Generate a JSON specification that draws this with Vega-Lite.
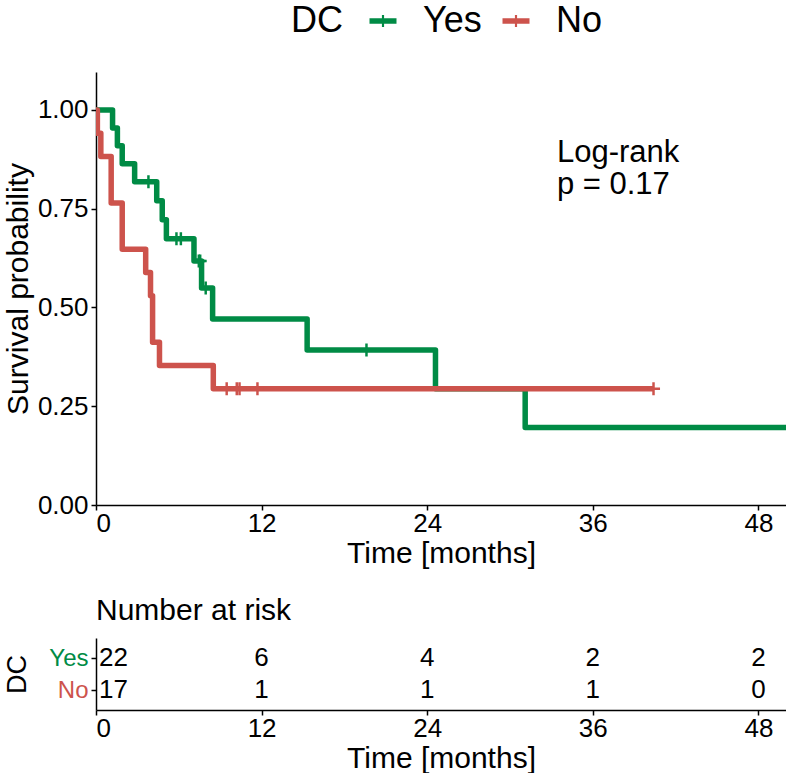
{
  "$schema": "https://vega.github.io/schema/vega-lite/v6.json",
  "padding": {"left": 3, "top": 3, "right": 0, "bottom": 0},
  "background": "white",
  "config": {
    "font": "Liberation Sans",
    "view": {"stroke": null},
    "axis": {
      "grid": false, "domainColor": "black", "domainWidth": 1.5, "tickColor": "black", "tickWidth": 1.5, "tickSize": 5,
      "labelColor": "black", "labelFontSize": 26, "labelFont": "Liberation Sans", "labelPadding": 3,
      "titleFont": "Liberation Sans", "titleFontSize": 30, "titleFontWeight": "normal", "titleColor": "black"
    },
    "axisX": {"labelPadding": 0, "titlePadding": 2},
    "legend": {
      "titleFont": "Liberation Sans", "labelFont": "Liberation Sans",
      "titleFontSize": 36, "labelFontSize": 36, "titleFontWeight": "normal", "titleColor": "black", "labelColor": "black"
    },
    "title": {"font": "Liberation Sans", "fontWeight": "normal", "color": "black"}
  },
  "datasets": {
    "km": [
      {"g": "Yes", "t": 0, "s": 1, "type": "start"},
      {"g": "Yes", "t": 1.2, "s": 0.9545, "type": "event"},
      {"g": "Yes", "t": 1.55, "s": 0.9091, "type": "event"},
      {"g": "Yes", "t": 1.9, "s": 0.8636, "type": "event"},
      {"g": "Yes", "t": 2.8, "s": 0.8182, "type": "event"},
      {"g": "Yes", "t": 3.8, "s": 0.8182, "type": "censor"},
      {"g": "Yes", "t": 4.4, "s": 0.7701, "type": "event"},
      {"g": "Yes", "t": 4.8, "s": 0.7219, "type": "event"},
      {"g": "Yes", "t": 5.1, "s": 0.6738, "type": "event"},
      {"g": "Yes", "t": 5.83, "s": 0.6738, "type": "censor"},
      {"g": "Yes", "t": 6.15, "s": 0.6738, "type": "censor"},
      {"g": "Yes", "t": 7.1, "s": 0.6176, "type": "event"},
      {"g": "Yes", "t": 7.45, "s": 0.6176, "type": "censor"},
      {"g": "Yes", "t": 7.55, "s": 0.6176, "type": "censor"},
      {"g": "Yes", "t": 7.65, "s": 0.549, "type": "event"},
      {"g": "Yes", "t": 7.95, "s": 0.549, "type": "censor"},
      {"g": "Yes", "t": 8.45, "s": 0.4706, "type": "event"},
      {"g": "Yes", "t": 15.3, "s": 0.3922, "type": "event"},
      {"g": "Yes", "t": 19.6, "s": 0.3922, "type": "censor"},
      {"g": "Yes", "t": 24.6, "s": 0.2941, "type": "event"},
      {"g": "Yes", "t": 31.1, "s": 0.1961, "type": "event"},
      {"g": "Yes", "t": 50, "s": 0.1961, "type": "end"},
      {"g": "No", "t": 0, "s": 1, "type": "start"},
      {"g": "No", "t": 0.1, "s": 0.9412, "type": "event"},
      {"g": "No", "t": 0.35, "s": 0.8824, "type": "event"},
      {"g": "No", "t": 1.1, "s": 0.7647, "type": "event"},
      {"g": "No", "t": 1.9, "s": 0.6471, "type": "event"},
      {"g": "No", "t": 3.6, "s": 0.5882, "type": "event"},
      {"g": "No", "t": 3.95, "s": 0.5294, "type": "event"},
      {"g": "No", "t": 4.1, "s": 0.4118, "type": "event"},
      {"g": "No", "t": 4.6, "s": 0.3529, "type": "event"},
      {"g": "No", "t": 8.5, "s": 0.2941, "type": "event"},
      {"g": "No", "t": 9.47, "s": 0.2941, "type": "censor"},
      {"g": "No", "t": 10.2, "s": 0.2941, "type": "censor"},
      {"g": "No", "t": 10.4, "s": 0.2941, "type": "censor"},
      {"g": "No", "t": 11.7, "s": 0.2941, "type": "censor"},
      {"g": "No", "t": 40.4, "s": 0.2941, "type": "censor"}
    ],
    "risk": [
      {"g": "Yes", "t": 0, "n": 22},
      {"g": "Yes", "t": 12, "n": 6},
      {"g": "Yes", "t": 24, "n": 4},
      {"g": "Yes", "t": 36, "n": 2},
      {"g": "Yes", "t": 48, "n": 2},
      {"g": "No", "t": 0, "n": 17},
      {"g": "No", "t": 12, "n": 1},
      {"g": "No", "t": 24, "n": 1},
      {"g": "No", "t": 36, "n": 1},
      {"g": "No", "t": 48, "n": 0}
    ]
  },
  "bounds": "flush",
  "spacing": 133,
  "vconcat": [
    {
      "width": 690,
      "height": 433,
      "data": {"name": "km"},
      "layer": [
        {
          "transform": [{"filter": "datum.g == 'Yes'"}],
          "mark": {"type": "line", "interpolate": "step-after", "color": "#008B45", "strokeWidth": 5.5, "strokeJoin": "round", "clip": true},
          "encoding": {
            "x": {"field": "t", "type": "quantitative", "scale": {"domain": [0, 50], "nice": false, "zero": false},
                  "axis": {"values": [0, 12, 24, 36, 48], "title": "Time [months]"}},
            "y": {"field": "s", "type": "quantitative", "scale": {"domain": [0, 1.096], "nice": false},
                  "axis": {"values": [0, 0.25, 0.5, 0.75, 1], "format": ".2f", "title": "Survival probability", "titlePadding": 4}},
            "order": {"field": "t"}
          }
        },
        {
          "transform": [{"filter": "datum.g == 'No'"}],
          "mark": {"type": "line", "interpolate": "step-after", "color": "#CD534C", "strokeWidth": 5.5, "strokeJoin": "round", "clip": true},
          "encoding": {
            "x": {"field": "t", "type": "quantitative"},
            "y": {"field": "s", "type": "quantitative"},
            "order": {"field": "t"}
          }
        },
        {
          "transform": [{"filter": "datum.type == 'censor'"}],
          "mark": {"type": "point", "filled": true, "opacity": 1, "size": 169,
                   "shape": "M-1,-0.19L-0.19,-0.19L-0.19,-1L0.19,-1L0.19,-0.19L1,-0.19L1,0.19L0.19,0.19L0.19,1L-0.19,1L-0.19,0.19L-1,0.19Z"},
          "encoding": {
            "x": {"field": "t", "type": "quantitative"},
            "y": {"field": "s", "type": "quantitative"},
            "color": {"field": "g", "type": "nominal",
                      "scale": {"domain": ["Yes", "No"], "range": ["#008B45", "#CD534C"]},
                      "legend": {"title": "DC", "orient": "none", "legendX": 195, "legendY": -69, "direction": "horizontal",
                                 "titleOrient": "left", "titlePadding": 22, "labelOffset": 22, "columnPadding": 16,
                                 "symbolType": "M-1,-0.2L-0.08,-0.2L-0.08,-0.45L0.08,-0.45L0.08,-0.2L1,-0.2L1,0.2L0.08,0.2L0.08,0.45L-0.08,0.45L-0.08,0.2L-1,0.2Z",
                                 "symbolSize": 729, "symbolStrokeWidth": 0, "symbolOpacity": 1}}
          }
        },
        {
          "data": {"values": [{"label": "Log-rank\np = 0.17"}]},
          "mark": {"type": "text", "align": "left", "baseline": "alphabetic", "fontSize": 31, "lineHeight": 32, "lineBreak": "\n", "font": "Liberation Sans", "color": "black"},
          "encoding": {
            "x": {"datum": 33.4, "type": "quantitative"},
            "y": {"datum": 0.869, "type": "quantitative"},
            "text": {"field": "label"}
          }
        }
      ]
    },
    {
      "width": 690,
      "height": 72,
      "data": {"name": "risk"},
      "title": {"text": "Number at risk", "anchor": "start", "frame": "group", "fontSize": 30, "offset": 12},
      "layer": [
        {
          "transform": [{"filter": "datum.t == 0"}],
          "mark": {"type": "text", "align": "left", "dx": 3, "baseline": "middle", "fontSize": 26, "color": "black"},
          "encoding": {
            "x": {"field": "t", "type": "quantitative", "scale": {"domain": [0, 50], "nice": false, "zero": false},
                  "axis": {"values": [0, 12, 24, 36, 48], "title": "Time [months]"}},
            "y": {"field": "g", "type": "nominal", "scale": {"type": "point", "domain": ["Yes", "No"], "padding": 0.625},
                  "axis": {"title": "DC", "titleFontSize": 27, "labelFontSize": 24, "titlePadding": 17,
                           "labelColor": {"condition": {"test": "datum.value === 'Yes'", "value": "#008B45"}, "value": "#CD534C"}}},
            "text": {"field": "n", "type": "quantitative"}
          }
        },
        {
          "transform": [{"filter": "datum.t > 0"}],
          "mark": {"type": "text", "align": "center", "baseline": "middle", "fontSize": 26, "color": "black"},
          "encoding": {
            "x": {"field": "t", "type": "quantitative"},
            "y": {"field": "g", "type": "nominal"},
            "text": {"field": "n", "type": "quantitative"}
          }
        }
      ]
    }
  ]
}
